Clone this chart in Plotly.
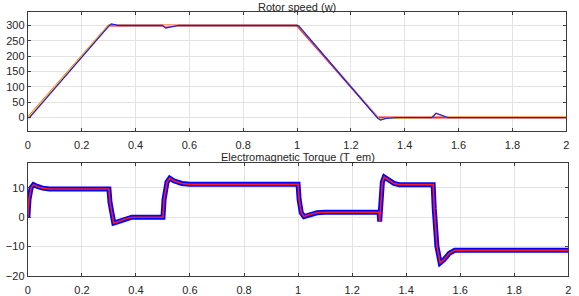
import plotly.graph_objects as go

W, H = 579, 296

# Rotor speed
t_ref = [0, 0.3, 1.0, 1.3, 2.0]
w_ref = [0, 300, 300, 0, 0]

t_w = [0, 0.006, 0.3, 0.31, 0.335, 0.5, 0.512, 0.53, 0.56, 1.0, 1.006, 1.3, 1.31, 1.33, 1.37,
       1.5, 1.506, 1.516, 1.53, 1.56, 2.0]
w_w = [0, 0, 298, 305, 300, 300, 292, 295, 300, 300, 299, -2, -8, -3, 0,
       0, 4, 14, 10, 0, 0]

t_y = [0, 0.003, 0.3, 0.31, 0.335, 1.0, 1.004, 1.3, 1.31, 1.33, 1.5, 1.505, 1.515, 1.53, 1.56, 2.0]
w_y = [0, 2, 300, 304, 300, 300, 300, 0, -7, -2, 0, 6, 13, 9, 0, 0]

# Electromagnetic torque
t_T = [0, 0.004, 0.012, 0.021, 0.035, 0.055, 0.08, 0.3, 0.304, 0.312, 0.318, 0.335, 0.36, 0.385,
       0.5, 0.504, 0.515, 0.525, 0.54, 0.57, 0.6, 1.0, 1.004, 1.012, 1.022, 1.04, 1.07, 1.1,
       1.3, 1.302, 1.306, 1.312, 1.319, 1.335, 1.355, 1.375, 1.5, 1.504, 1.514, 1.526, 1.54,
       1.56, 1.58, 2.0]
T_T = [0, 6, 10, 11.1, 10.5, 9.9, 9.6, 9.6, 5, 0, -2, -1.5, -0.6, 0, 0, 6, 12, 13.3, 12.4, 11.5,
       11.2, 11.2, 6, 1.5, 0.2, 0.8, 1.5, 1.7, 1.7, -1.5, 5, 12, 13.7, 12.6, 11.5, 11.1, 11.1, 3,
       -10, -15.6, -14.5, -12.3, -11.3, -11.3]

x_ticks = [0, 0.2, 0.4, 0.6, 0.8, 1, 1.2, 1.4, 1.6, 1.8, 2]
x_labels = ["0", "0.2", "0.4", "0.6", "0.8", "1", "1.2", "1.4", "1.6", "1.8", "2"]

fig = go.Figure()

fig.add_trace(go.Scatter(x=t_ref, y=w_ref, mode="lines", line=dict(color="#ff2020", width=2),
                         xaxis="x", yaxis="y", showlegend=False))
fig.add_trace(go.Scatter(x=t_y, y=w_y, mode="lines", line=dict(color="#ffe000", width=1.5),
                         xaxis="x", yaxis="y", showlegend=False))
fig.add_trace(go.Scatter(x=t_w, y=w_w, mode="lines", line=dict(color="#1a1aff", width=1.3),
                         xaxis="x", yaxis="y", showlegend=False))

fig.add_trace(go.Scatter(x=t_T, y=T_T, mode="lines", line=dict(color="#0000ff", width=5),
                         xaxis="x2", yaxis="y2", showlegend=False))
fig.add_trace(go.Scatter(x=t_T, y=T_T, mode="lines", line=dict(color="#ff1a1a", width=1.6),
                         xaxis="x2", yaxis="y2", showlegend=False))

axcommon = dict(showgrid=True, gridcolor="#e3e3e3", gridwidth=1, zeroline=False,
                showline=True, linecolor="#3c3c3c", linewidth=1, mirror="ticks",
                ticks="inside", ticklen=3, tickcolor="#3c3c3c",
                tickfont=dict(family="Liberation Sans, Arial", size=11, color="#262626"))

fig.update_layout(
    width=W, height=H,
    margin=dict(l=0, r=0, t=0, b=0),
    paper_bgcolor="white", plot_bgcolor="white",
    xaxis=dict(domain=[25 / W, 569.3 / W], range=[-0.0005, 2.0005], tickvals=x_ticks,
               ticktext=x_labels, anchor="y", ticklabelstandoff=4, **axcommon),
    yaxis=dict(domain=[1 - 133.3 / H, 1 - 12.7 / H], range=[-42.5, 342.5],
               tickvals=[0, 50, 100, 150, 200, 250, 300], anchor="x", **axcommon),
    xaxis2=dict(domain=[25 / W, 571.3 / W], range=[-0.0005, 2.0005], tickvals=x_ticks,
                ticktext=x_labels, anchor="y2", ticklabelstandoff=4, **axcommon),
    yaxis2=dict(domain=[1 - 281.7 / H, 1 - 166 / H], range=[-20.05, 18.6],
                tickvals=[-20, -10, 0, 10], anchor="x2", **axcommon),
    annotations=[
        dict(text="Rotor speed (w)", x=0.5 * (25 + 569.3) / W, y=1 - 7 / H, xref="paper", yref="paper",
             showarrow=False, font=dict(family="Liberation Sans, Arial", size=11, color="#262626"),
             xanchor="center", yanchor="middle"),
        dict(text="Electromagnetic Torque (T_em)", x=0.5 * (25 + 571.3) / W, y=1 - 160.5 / H,
             xref="paper", yref="paper", showarrow=False,
             font=dict(family="Liberation Sans, Arial", size=11, color="#262626"),
             xanchor="center", yanchor="middle"),
    ],
)

fig.write_html("out.html", config={"displayModeBar": False},
               post_script="document.body.style.margin='0';document.body.style.overflow='hidden';")
